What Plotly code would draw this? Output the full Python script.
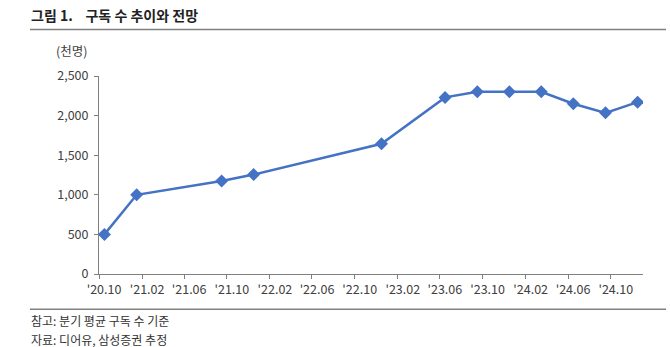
import plotly.graph_objects as go

# Quarterly average subscribers (thousands), by month of observation
months = ["2020-10", "2021-01", "2021-09", "2021-12", "2022-12", "2023-06",
          "2023-09", "2023-12", "2024-03", "2024-06", "2024-09", "2024-12"]
subscribers = [500, 1000, 1175, 1255, 1645, 2230, 2300, 2300, 2300, 2150, 2035, 2170]

y_ticks = [0, 500, 1000, 1500, 2000, 2500]
y_tick_labels = ["0", "500", "1,000", "1,500", "2,000", "2,500"]

FONT = "Noto Sans CJK KR, Malgun Gothic, sans-serif"
BLUE = "#4472C4"
AXIS = "#7f7f7f"
TEXT = "#404040"

# plot-area geometry in pixels, used to place paper-referenced decorations
L, R, T, B = 99, 27, 76, 73
PW, PH = 670 - L - R, 347 - T - B


def px_x(x):
    return (x - L) / PW


def px_y(y):
    return (347 - B - y) / PH


fig = go.Figure()
fig.add_trace(go.Scatter(
    x=[m + "-01" for m in months],
    y=subscribers,
    xperiod="M1",
    xperiodalignment="middle",
    mode="lines+markers",
    line=dict(color=BLUE, width=2.5),
    marker=dict(symbol="diamond", size=10, color=BLUE),
    hoverinfo="skip",
    showlegend=False,
))

fig.update_layout(
    width=670, height=347,
    margin=dict(l=L, r=R, t=T, b=B),
    paper_bgcolor="white", plot_bgcolor="white",
    font=dict(family=FONT, size=12, color=TEXT),
    xaxis=dict(
        type="date",
        range=["2020-10-01", "2025-01-01"],
        tick0="2020-10-01", dtick="M4",
        tickformat="'%y.%m",
        ticks="outside", ticklen=4, tickcolor=AXIS,
        ticklabelshift=5,
        showline=True, linecolor=AXIS, linewidth=1,
        showgrid=False, zeroline=False,
        tickfont=dict(size=12.5, color=TEXT),
    ),
    yaxis=dict(
        range=[0, 2500],
        tickvals=y_ticks, ticktext=y_tick_labels,
        ticks="outside", ticklen=4, tickcolor=AXIS,
        ticklabelstandoff=3,
        showline=True, linecolor=AXIS, linewidth=1,
        showgrid=False, zeroline=False,
        tickfont=dict(size=12.5, color=TEXT),
    ),
)

# Title, unit label and footnotes
fig.add_annotation(text="<b>그림 1.&nbsp;&nbsp;&nbsp;&nbsp;구독 수 추이와 전망</b>",
                   xref="paper", yref="paper", x=px_x(29), y=px_y(15),
                   xanchor="left", yanchor="middle", showarrow=False,
                   font=dict(family=FONT, size=14, color="#222222"))
fig.add_annotation(text="(천명)", xref="paper", yref="paper",
                   x=px_x(54), y=px_y(51), xanchor="left", yanchor="middle",
                   showarrow=False, font=dict(family=FONT, size=12.5, color=TEXT))
fig.add_annotation(text="참고: 분기 평균 구독 수 기준", xref="paper", yref="paper",
                   x=px_x(29), y=px_y(320.5), xanchor="left", yanchor="middle",
                   showarrow=False, font=dict(family=FONT, size=12, color="#333333"))
fig.add_annotation(text="자료: 디어유, 삼성증권 추정", xref="paper", yref="paper",
                   x=px_x(29), y=px_y(339.5), xanchor="left", yanchor="middle",
                   showarrow=False, font=dict(family=FONT, size=12, color="#333333"))

# Rules under the title and above the footnotes
for ypix in (29.5, 309.3):
    fig.add_shape(type="line", xref="paper", yref="paper",
                  x0=px_x(30), x1=px_x(666), y0=px_y(ypix), y1=px_y(ypix),
                  line=dict(color="#808080", width=1.5))

fig.write_html("out.html")
